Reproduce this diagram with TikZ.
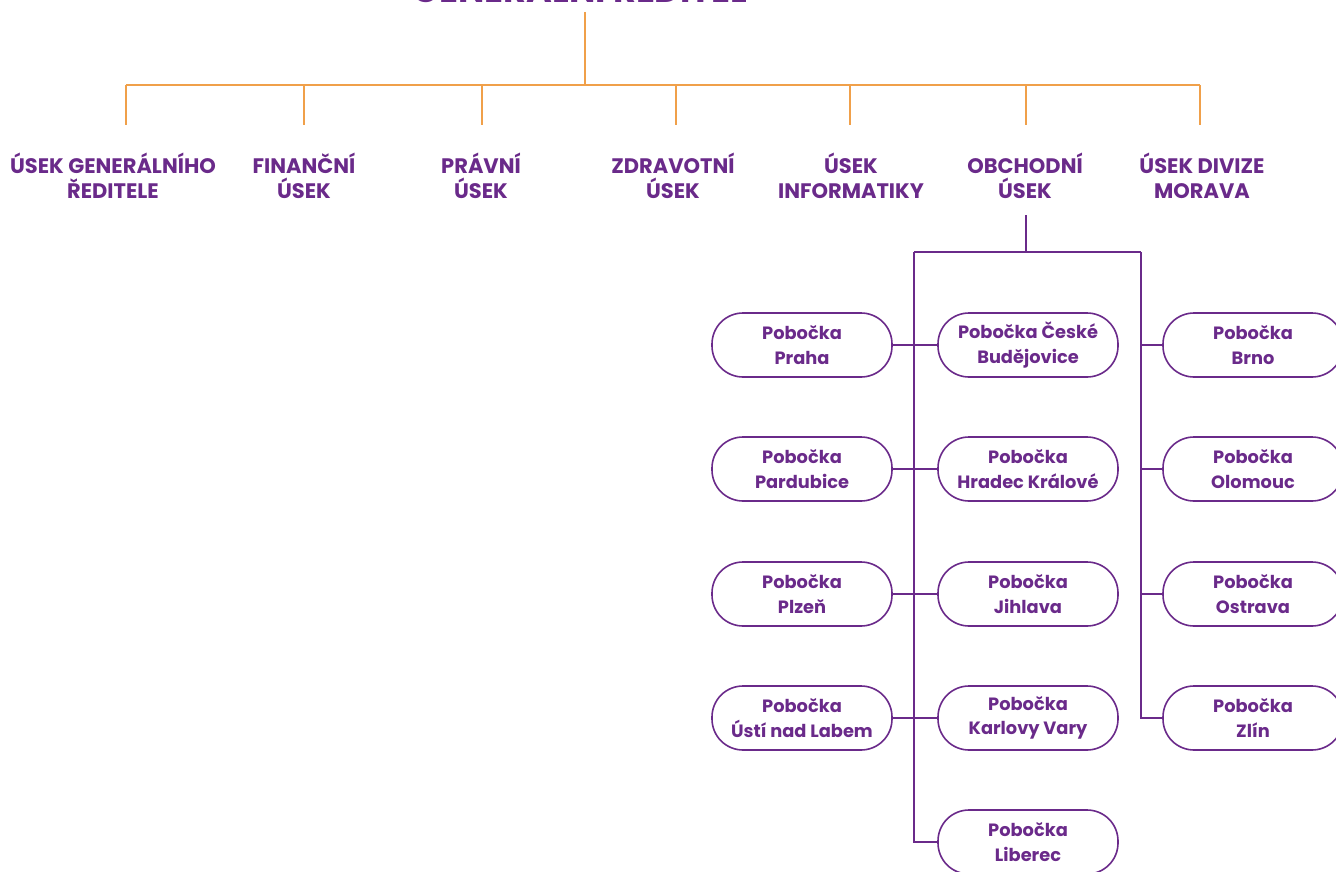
\documentclass[tikz,border=0pt]{standalone}
\usepackage{fontspec}
\setmainfont{Poppins}
\definecolor{orgpurple}{HTML}{6A2A8A}
\definecolor{orgorange}{HTML}{F0A04A}
\tikzset{
  dept/.style={text=orgpurple, font=\fontsize{21}{25}\selectfont\bfseries, align=center, inner sep=0pt},
  branch/.style={draw=orgpurple, line width=1.6pt, rounded corners=31pt, minimum width=180pt, minimum height=64pt,
    text=orgpurple, font=\fontsize{17.8}{24.5}\selectfont\bfseries, align=center, inner sep=0pt},
  orgline/.style={draw=orgorange, line width=1.5pt},
  subline/.style={draw=orgpurple, line width=1.3pt},
}
\begin{document}
\begin{tikzpicture}[x=1pt,y=-1pt]
    \useasboundingbox (0,0) rectangle (1336,872);

    % Head (cut by the page edge)
    \node[dept, font=\fontsize{35}{40}\selectfont\bfseries, anchor=base] (ceo) at (580,3) {GENERÁLNÍ ŘEDITEL};
    \coordinate (ceoend) at (585,12);
    \coordinate (bus) at (585,85);
    \draw[orgline] (ceoend) -- (bus);

    % Departments
    \node[dept] (ugr) at (113,176) {ÚSEK GENERÁLNÍHO\\ŘEDITELE};
    \node[dept] (fin) at (304,176) {FINANČNÍ\\ÚSEK};
    \node[dept] (pra) at (481,176) {PRÁVNÍ\\ÚSEK};
    \node[dept] (zdr) at (673,176) {ZDRAVOTNÍ\\ÚSEK};
    \node[dept] (inf) at (851,176) {ÚSEK\\INFORMATIKY};
    \node[dept] (obc) at (1025,176) {OBCHODNÍ\\ÚSEK};
    \node[dept] (mor) at (1202,176) {ÚSEK DIVIZE\\MORAVA};

    % Orange tree
    \draw[orgline] (126,85) -- (1200,85);
    \foreach \x in {126,304,482,676,850,1026,1200}
        \draw[orgline] (\x,85) -- (\x,125);

    % Branches
    \node[branch] (praha) at (802,345) {Pobočka\\Praha};
    \node[branch] (pardubice) at (802,469) {Pobočka\\Pardubice};
    \node[branch] (plzen) at (802,594) {Pobočka\\Plzeň};
    \node[branch] (usti) at (802,718) {Pobočka\\Ústí nad Labem};
    \node[branch] (budejovice) at (1028,345) {Pobočka České\\Budějovice};
    \node[branch] (hradec) at (1028,469) {Pobočka\\Hradec Králové};
    \node[branch] (jihlava) at (1028,594) {Pobočka\\Jihlava};
    \node[branch] (vary) at (1028,718) {Pobočka\\Karlovy Vary};
    \node[branch] (liberec) at (1028,842) {Pobočka\\Liberec};
    \node[branch] (brno) at (1253,345) {Pobočka\\Brno};
    \node[branch] (olomouc) at (1253,469) {Pobočka\\Olomouc};
    \node[branch] (ostrava) at (1253,594) {Pobočka\\Ostrava};
    \node[branch] (zlin) at (1253,718) {Pobočka\\Zlín};

    % Purple tree
    \coordinate (obcend) at (1026,215);
    \coordinate (lbus) at (914,252);
    \coordinate (rbus) at (1141,252);
    \draw[subline] (obcend) -- (obcend |- lbus);
    \draw[subline] (lbus) -- (rbus);
    \draw[subline] (lbus) |- (liberec.west);
    \draw[subline] (rbus) |- (zlin.west);
    \draw[subline] (praha.east) -- (budejovice.west);
    \draw[subline] (pardubice.east) -- (hradec.west);
    \draw[subline] (plzen.east) -- (jihlava.west);
    \draw[subline] (usti.east) -- (vary.west);
    \draw[subline] (rbus |- brno.west) -- (brno.west);
    \draw[subline] (rbus |- olomouc.west) -- (olomouc.west);
    \draw[subline] (rbus |- ostrava.west) -- (ostrava.west);
\end{tikzpicture}
\end{document}
